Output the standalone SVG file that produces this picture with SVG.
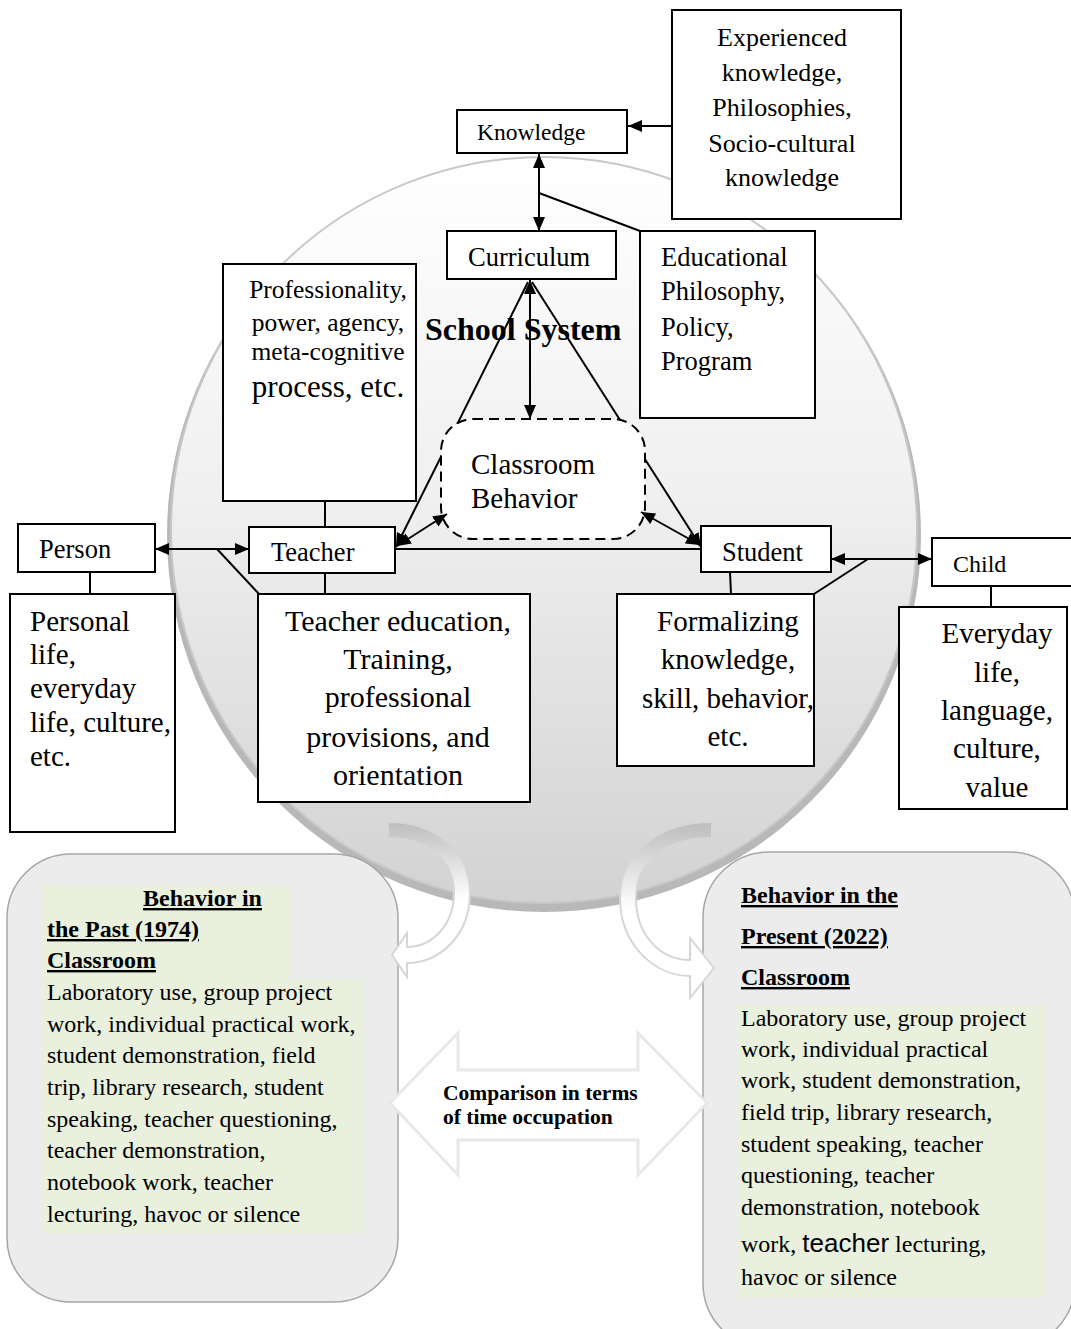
<svg xmlns="http://www.w3.org/2000/svg" width="1071" height="1329" viewBox="0 0 1071 1329">
<defs>
<linearGradient id="cg" x1="0" y1="0" x2="0" y2="1">
<stop offset="0" stop-color="#ffffff"/>
<stop offset="0.45" stop-color="#f0f0f0"/>
<stop offset="1" stop-color="#d2d2d2"/>
</linearGradient>
<linearGradient id="ag" x1="0" y1="0" x2="0" y2="1">
<stop offset="0" stop-color="#bdbdbd"/>
<stop offset="0.5" stop-color="#ffffff"/>
<stop offset="1" stop-color="#ffffff"/>
</linearGradient>
<marker id="ah" viewBox="0 0 14 12" refX="14" refY="6" markerWidth="14" markerHeight="12" markerUnits="userSpaceOnUse" orient="auto-start-reverse">
<path d="M0,0 L14,6 L0,12 z" fill="#000"/>
</marker>
<style>
.box{fill:#fff;stroke:#000;stroke-width:2}
.t{font-family:"Liberation Serif","Times New Roman",serif;fill:#000}
.c{text-anchor:middle}
.b{font-weight:bold}
.u{text-decoration:underline}
.ln{stroke:#000;stroke-width:2;fill:none}
.ar{marker-end:url(#ah)}
.ar2{marker-start:url(#ah);marker-end:url(#ah)}
.rbox{fill:#ececec;stroke:#a6a6a6;stroke-width:1.5}
.hl{fill:#e9f0de}
.carrow{fill:url(#ag);stroke:#d6d6d6;stroke-width:2}
</style>
</defs>

<g id="school-circle">
<circle cx="544" cy="535" r="377" fill="#b8b8b8"/>
<circle cx="544" cy="530" r="373" fill="url(#cg)" stroke="#c8c8c8" stroke-width="2"/>
</g>

<g id="past-box">
<rect class="rbox" x="7" y="854" width="391" height="448" rx="64"/>
<rect class="hl" x="42" y="885" width="248" height="94"/>
<rect class="hl" x="42" y="979" width="321" height="254"/>
<g class="t b u" font-size="24">
<text x="143" y="906">Behavior in</text>
<text x="47" y="937">the Past (1974)</text>
<text x="47" y="968">Classroom</text>
</g>
<g class="t" font-size="24">
<text x="47" y="1000">Laboratory use, group project</text>
<text x="47" y="1031.7">work, individual practical work,</text>
<text x="47" y="1063.3">student demonstration, field</text>
<text x="47" y="1095">trip, library research, student</text>
<text x="47" y="1126.7">speaking, teacher questioning,</text>
<text x="47" y="1158.3">teacher demonstration,</text>
<text x="47" y="1190">notebook work, teacher</text>
<text x="47" y="1221.7">lecturing, havoc or silence</text>
</g>
</g>

<g id="present-box">
<rect class="rbox" x="703" y="852" width="372" height="497" rx="66"/>
<rect class="hl" x="737" y="1005" width="308" height="292"/>
<g class="t b u" font-size="24">
<text x="741" y="903">Behavior in the</text>
<text x="741" y="944">Present (2022)</text>
<text x="741" y="985">Classroom</text>
</g>
<g class="t" font-size="24">
<text x="741" y="1026">Laboratory use, group project</text>
<text x="741" y="1057">work, individual practical</text>
<text x="741" y="1088">work, student demonstration,</text>
<text x="741" y="1120">field trip, library research,</text>
<text x="741" y="1152">student speaking, teacher</text>
<text x="741" y="1183">questioning, teacher</text>
<text x="741" y="1215">demonstration, notebook</text>
<text x="741" y="1252">work, <tspan font-family="Liberation Sans, Arial, sans-serif" font-size="26">teacher</tspan> lecturing,</text>
<text x="741" y="1285">havoc or silence</text>
</g>
</g>

<g id="curved-arrows">
<path class="carrow" d="M388 822 C440 822 470 855 470 893 C470 935 440 963 407 963 L407 977 L392 955 L407 933 L407 947 C432 947 454 925 454 893 C454 862 430 838 388 838 Z"/>
<path class="carrow" d="M712 822 C660 822 620 852 620 898 C620 945 655 976 690 976 L690 998 L714 968 L690 938 L690 960 C660 960 636 935 636 898 C636 862 665 838 712 838 Z"/>
</g>

<g id="comparison">
<polygon points="390,1103 458,1033 458,1070 638,1070 638,1033 707,1103 638,1175 638,1140 458,1140 458,1175" fill="#fff" stroke="#e8e8e8" stroke-width="3"/>
<g class="t b" font-size="21.5">
<text x="443" y="1100">Comparison in terms</text>
<text x="443" y="1124">of time occupation</text>
</g>
</g>

<g id="connectors">
<line class="ln ar" x1="671" y1="126" x2="628" y2="126"/>
<line class="ln ar2" x1="539" y1="154" x2="539" y2="231"/>
<line class="ln" x1="539" y1="193" x2="640" y2="231"/>
<line class="ln ar" x1="528" y1="282" x2="396" y2="547"/>
<line class="ln ar" x1="532" y1="282" x2="701" y2="547"/>
<line class="ln" x1="395" y1="549" x2="701" y2="549"/>
<line class="ln" x1="325" y1="501" x2="325" y2="527"/>
<line class="ln" x1="325" y1="573" x2="325" y2="594"/>
<line class="ln ar2" x1="155" y1="549" x2="249" y2="549"/>
<line class="ln" x1="217" y1="549" x2="259" y2="594"/>
<line class="ln" x1="90" y1="572" x2="90" y2="594"/>
<line class="ln" x1="730" y1="572" x2="731" y2="594"/>
<line class="ln ar2" x1="831" y1="559" x2="932" y2="559"/>
<line class="ln" x1="868" y1="559" x2="814" y2="594"/>
<line class="ln" x1="991" y1="586" x2="991" y2="607"/>
</g>

<g id="classroom">
<rect x="441" y="419" width="204" height="120" rx="32" fill="#fff" stroke="#000" stroke-width="2" stroke-dasharray="10,6"/>
<g class="t" font-size="29">
<text x="471" y="474">Classroom</text>
<text x="471" y="508">Behavior</text>
</g>
</g>

<g id="connectors-inner">
<line class="ln ar2" x1="530" y1="280" x2="530" y2="419"/>
<line class="ln ar2" x1="447" y1="514" x2="397" y2="546"/>
<line class="ln ar2" x1="641" y1="512" x2="700" y2="545"/>
</g>

<g id="experienced">
<rect class="box" x="672" y="10" width="229" height="209"/>
<g class="t c" font-size="26">
<text x="782" y="46">Experienced</text>
<text x="782" y="81">knowledge,</text>
<text x="782" y="116">Philosophies,</text>
<text x="782" y="152">Socio-cultural</text>
<text x="782" y="186">knowledge</text>
</g>
</g>

<g id="knowledge">
<rect class="box" x="457" y="110" width="170" height="43"/>
<text class="t" x="477" y="140" font-size="23.5">Knowledge</text>
</g>

<g id="curriculum">
<rect class="box" x="447" y="231" width="169" height="48"/>
<text class="t" x="468" y="266" font-size="26.5">Curriculum</text>
</g>

<g id="educational">
<rect class="box" x="640" y="231" width="175" height="187"/>
<g class="t" font-size="26.5">
<text x="661" y="266">Educational</text>
<text x="661" y="300">Philosophy,</text>
<text x="661" y="336">Policy,</text>
<text x="661" y="370">Program</text>
</g>
</g>

<g id="professionality">
<rect class="box" x="223" y="264" width="193" height="237"/>
<g class="t c" font-size="25.5">
<text x="328" y="298">Professionality,</text>
<text x="328" y="331">power, agency,</text>
<text x="328" y="360">meta-cognitive</text>
<text x="328" y="397" font-size="31">process, etc.</text>
</g>
</g>

<text id="school-system" class="t b" x="425" y="340" font-size="32">School System</text>

<g id="teacher">
<rect class="box" x="249" y="527" width="146" height="46"/>
<text class="t" x="271" y="561" font-size="26.5">Teacher</text>
</g>

<g id="person">
<rect class="box" x="18" y="524" width="137" height="48"/>
<text class="t" x="39" y="558" font-size="26.5">Person</text>
</g>

<g id="personal">
<rect class="box" x="10" y="594" width="165" height="238"/>
<g class="t" font-size="29">
<text x="30" y="631">Personal</text>
<text x="30" y="664">life,</text>
<text x="30" y="698">everyday</text>
<text x="30" y="732">life, culture,</text>
<text x="30" y="766">etc.</text>
</g>
</g>

<g id="teacher-education">
<rect class="box" x="258" y="594" width="272" height="208"/>
<g class="t c" font-size="30">
<text x="398" y="631">Teacher education,</text>
<text x="398" y="669">Training,</text>
<text x="398" y="707">professional</text>
<text x="398" y="747">provisions, and</text>
<text x="398" y="785">orientation</text>
</g>
</g>

<g id="student">
<rect class="box" x="701" y="526" width="130" height="46"/>
<text class="t" x="722" y="561" font-size="26.5">Student</text>
</g>

<g id="formalizing">
<rect class="box" x="617" y="594" width="197" height="172"/>
<g class="t c" font-size="29">
<text x="728" y="631">Formalizing</text>
<text x="728" y="669">knowledge,</text>
<text x="728" y="708">skill, behavior,</text>
<text x="728" y="746">etc.</text>
</g>
</g>

<g id="child">
<rect class="box" x="932" y="538" width="145" height="48"/>
<text class="t" x="953" y="572" font-size="24">Child</text>
</g>

<g id="everyday">
<rect class="box" x="899" y="607" width="168" height="202"/>
<g class="t c" font-size="29">
<text x="997" y="643">Everyday</text>
<text x="997" y="682">life,</text>
<text x="997" y="720">language,</text>
<text x="997" y="758">culture,</text>
<text x="997" y="797">value</text>
</g>
</g>
</svg>
